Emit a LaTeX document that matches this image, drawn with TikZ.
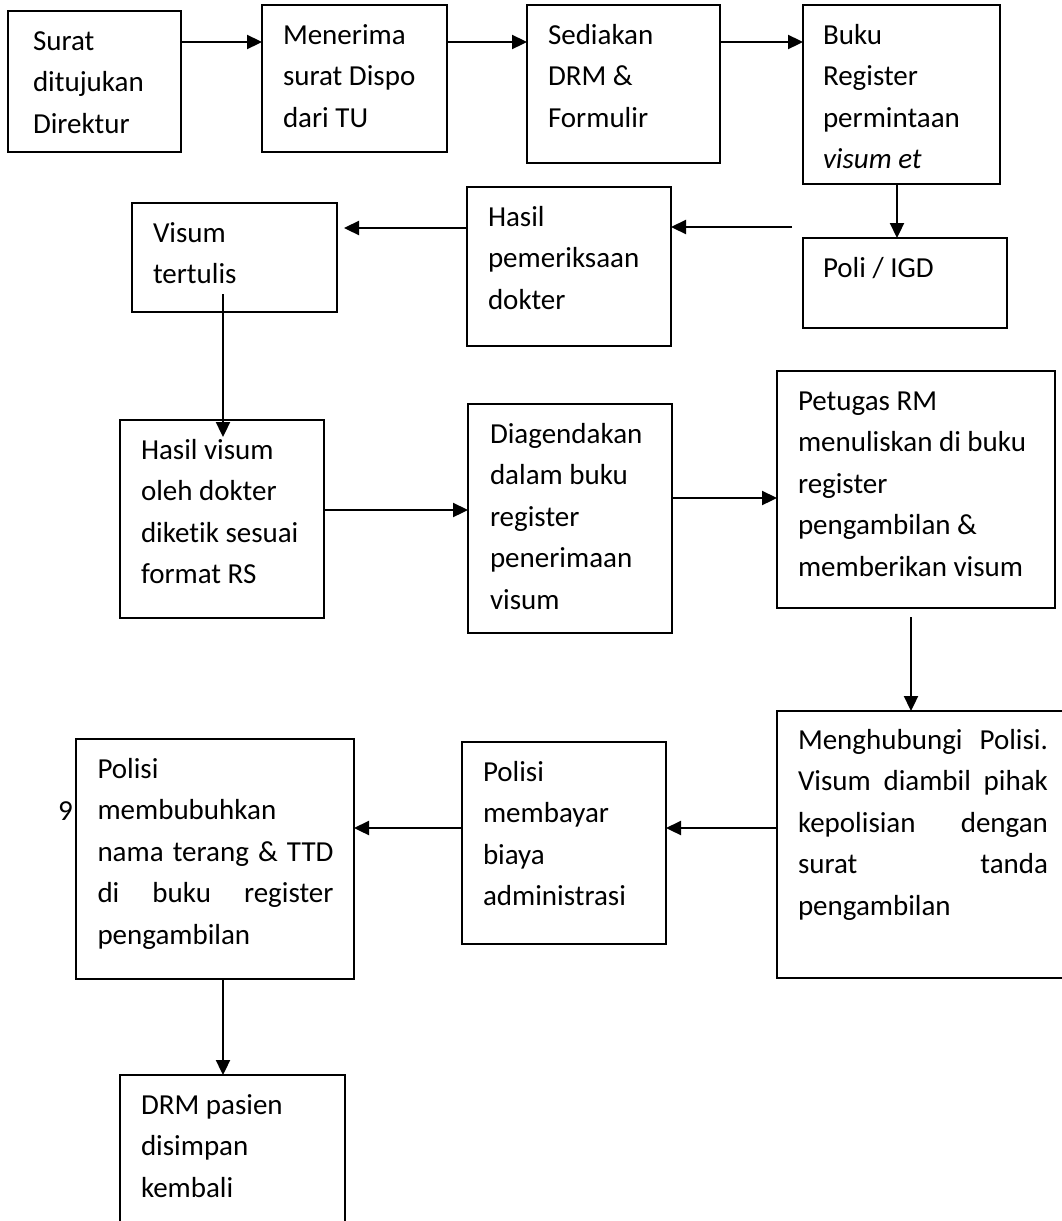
\documentclass[tikz,border=0pt]{standalone}
\usepackage{fontspec}
\setmainfont{Carlito}[Ligatures=NoCommon]
\usetikzlibrary{arrows.meta}
\tikzset{
  box/.style={draw, line width=1.8pt, inner sep=0pt, outer sep=0pt, anchor=north west},
  txt/.style={anchor=north west, inner sep=0pt, outer sep=0pt, align=flush left,
    font=\fontsize{29}{41.5}\selectfont},
  arr/.style={line width=2.3pt, -{Triangle[length=15pt,width=14pt]}}
}
\begin{document}
\begin{tikzpicture}[x=1pt,y=-1pt]
\useasboundingbox (0,0) rectangle (1062,1221);
\clip (0,0) rectangle (1062,1221);
% boxes
\node[box, minimum width=173pt, minimum height=141pt] (A) at (8,11) {};
\node[box, minimum width=185pt, minimum height=147pt] (B) at (262,5) {};
\node[box, minimum width=193pt, minimum height=158pt] (C) at (527,5) {};
\node[box, minimum width=197pt, minimum height=179pt] (D) at (803,5) {};
\node[box, minimum width=204pt, minimum height=90pt] (E) at (803,238) {};
\node[box, minimum width=204pt, minimum height=159pt] (F) at (467,187) {};
\node[box, minimum width=205pt, minimum height=109pt] (G) at (132,203) {};
\node[box, minimum width=204pt, minimum height=198pt] (H) at (120,420) {};
\node[box, minimum width=204pt, minimum height=229pt] (I) at (468,404) {};
\node[box, minimum width=278pt, minimum height=237pt] (J) at (777,371) {};
\node[box, minimum width=300pt, minimum height=267pt] (K) at (777,711) {};
\node[box, minimum width=204pt, minimum height=202pt] (L) at (462,742) {};
\node[box, minimum width=278pt, minimum height=240pt] (M) at (76,739) {};
\node[box, minimum width=225pt, minimum height=180pt] (N) at (120,1075) {};
% texts
\node[txt, text width=145pt] (tA) at ([shift={(25,10)}]A.north west) {\strut Surat\\ditujukan\\Direktur};
\node[txt, text width=160pt] (tB) at ([shift={(21,10)}]B.north west) {\strut Menerima\\surat Dispo\\dari TU};
\node[txt, text width=168pt] (tC) at ([shift={(21,10)}]C.north west) {\strut Sediakan\\DRM \&\\Formulir};
\node[txt, text width=172pt] (tD) at ([shift={(20,10)}]D.north west) {\strut Buku\\Register\\permintaan\\\textit{visum et}};
\node[txt, text width=180pt] (tE) at ([shift={(20,10)}]E.north west) {\strut Poli / IGD};
\node[txt, text width=180pt] (tF) at ([shift={(21,10)}]F.north west) {\strut Hasil\\pemeriksaan\\dokter};
\node[txt, text width=180pt] (tG) at ([shift={(21,10)}]G.north west) {\strut Visum\\tertulis};
\node[txt, text width=180pt] (tH) at ([shift={(21,10)}]H.north west) {\strut Hasil visum\\oleh dokter\\diketik sesuai\\format RS};
\node[txt, text width=180pt] (tI) at ([shift={(22,10)}]I.north west) {\strut Diagendakan\\dalam buku\\register\\penerimaan\\visum};
\node[txt, text width=254pt] (tJ) at ([shift={(21,10)}]J.north west) {\strut Petugas RM\\menuliskan di buku\\register\\pengambilan \&\\memberikan visum};
\node[txt, text width=250pt] (tK) at ([shift={(21,9)}]K.north west) {\makebox[\linewidth][s]{\strut Menghubungi Polisi.}\\\makebox[\linewidth][s]{Visum diambil pihak}\\\makebox[\linewidth][s]{kepolisian dengan}\\\makebox[\linewidth][s]{surat tanda}\\pengambilan};
\node[txt, text width=180pt] (tL) at ([shift={(21,10)}]L.north west) {\strut Polisi\\membayar\\biaya\\administrasi};
\node[txt, text width=236pt] (tM) at ([shift={(21.5,10)}]M.north west) {\strut Polisi\\membubuhkan\\\makebox[\linewidth][s]{nama terang \& TTD}\\\makebox[\linewidth][s]{di buku register}\\pengambilan};
\node[txt, text width=200pt] (tN) at ([shift={(21,10)}]N.north west) {\strut DRM pasien\\disimpan\\kembali};
\node[anchor=base west, inner sep=0pt, font=\fontsize{29}{41.5}\selectfont] (nine) at (58,820) {9};
% helper coordinates
\coordinate (y1) at (0,42);
\coordinate (y2) at (0,228);
\coordinate (y3) at (0,510);
\coordinate (y4) at (0,498);
\coordinate (y5) at (0,828);
\coordinate (x1) at (897,0);
\coordinate (x2) at (223,0);
\coordinate (x3) at (911,0);
\coordinate (fs) at (792,227);
\coordinate (gs) at (223,294);
% connectors
\draw[arr] (A.east |- y1) -- (B.west |- y1);
\draw[arr] (B.east |- y1) -- (C.west |- y1);
\draw[arr] (C.east |- y1) -- (D.west |- y1);
\draw[arr] (D.south -| x1) -- (E.north -| x1);
\draw[arr] (fs) -- (F.east |- fs);
\draw[arr, shorten >=7pt] (F.west |- y2) -- (G.east |- y2);
\draw[arr, shorten >=-17pt] (gs) -- (H.north -| x2);
\draw[arr] (H.east |- y3) -- (I.west |- y3);
\draw[arr] (I.east |- y4) -- (J.west |- y4);
\draw[arr, shorten <=9pt] (J.south -| x3) -- (K.north -| x3);
\draw[arr] (K.west |- y5) -- (L.east |- y5);
\draw[arr] (L.west |- y5) -- (M.east |- y5);
\draw[arr] (M.south -| x2) -- (N.north -| x2);
\end{tikzpicture}
\end{document}
